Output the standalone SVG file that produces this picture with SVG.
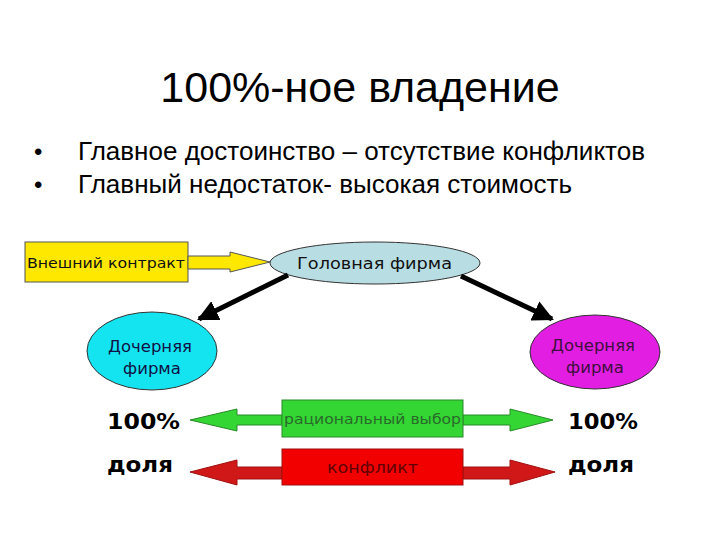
<svg xmlns="http://www.w3.org/2000/svg" width="720" height="540" viewBox="0 0 720 540">
<style>
.t{font-family:"Liberation Sans",Arial,sans-serif;fill:#000}
.d{font-family:"DejaVu Sans","Liberation Sans",sans-serif}
.bd{font-family:"DejaVu Sans","Liberation Sans",sans-serif;font-weight:bold;font-size:21px;fill:#000}
.conn{stroke:#000;stroke-width:5;fill:none}
</style>
<defs>
<marker id="ah" viewBox="0 0 10 10" refX="9" refY="5" markerWidth="4.2" markerHeight="4.2" orient="auto" markerUnits="strokeWidth">
<path d="M0,0 L10,5 L0,10 z" fill="#000"/>
</marker>
</defs>
<rect width="720" height="540" fill="#fff"/>
<text class="t" x="360" y="102" font-size="43" text-anchor="middle">100%-ное владение</text>
<text class="t" x="34" y="160" font-size="24">•</text>
<text class="t" x="78" y="160" font-size="25" textLength="567" lengthAdjust="spacingAndGlyphs">Главное достоинство – отсутствие конфликтов</text>
<text class="t" x="34" y="193" font-size="24">•</text>
<text class="t" x="78" y="193" font-size="25" textLength="494" lengthAdjust="spacingAndGlyphs">Главный недостаток- высокая стоимость</text>

<g id="external">
<rect x="25" y="242" width="163" height="40" fill="#ffe800" stroke="#555" stroke-width="1"/>
<path d="M188,256 L230,256 L230,252 L270,262 L230,272 L230,269 L188,269 z" fill="#ffe800" stroke="#555" stroke-width="1"/>
<text class="d" x="27" y="268" font-size="14.5" textLength="158" lengthAdjust="spacingAndGlyphs" fill="#111">Внешний контракт</text>
</g>
<g id="head">
<ellipse cx="375" cy="263" rx="105" ry="21" fill="#b8dde3" stroke="#333" stroke-width="1"/>
<text class="d" x="297" y="269" font-size="16.5" textLength="155" lengthAdjust="spacingAndGlyphs" fill="#111">Головная фирма</text>
</g>
<g id="connectors">
<line class="conn" x1="288" y1="275" x2="199" y2="319" marker-end="url(#ah)"/>
<line class="conn" x1="461" y1="276" x2="552" y2="319" marker-end="url(#ah)"/>
</g>
<g id="sub-left">
<ellipse cx="152" cy="351" rx="65" ry="39" fill="#14e4f0" stroke="#333" stroke-width="1"/>
<text class="d" x="150" y="352" font-size="16.5" text-anchor="middle" fill="#114">Дочерняя</text>
<text class="d" x="152" y="374" font-size="16.5" text-anchor="middle" fill="#114">фирма</text>
</g>
<g id="sub-right">
<ellipse cx="595" cy="352" rx="65" ry="37" fill="#e21ee2" stroke="#333" stroke-width="1"/>
<text class="d" x="593" y="351" font-size="16.5" text-anchor="middle" fill="#401040">Дочерняя</text>
<text class="d" x="595" y="373" font-size="16.5" text-anchor="middle" fill="#401040">фирма</text>
</g>
<g id="labels">
<text class="bd" x="107" y="429" textLength="73" lengthAdjust="spacingAndGlyphs">100%</text>
<text class="bd" x="568" y="429" textLength="70" lengthAdjust="spacingAndGlyphs">100%</text>
<text class="bd" x="107" y="472" textLength="66" lengthAdjust="spacingAndGlyphs">доля</text>
<text class="bd" x="568" y="472" textLength="66" lengthAdjust="spacingAndGlyphs">доля</text>
</g>
<g id="rational">
<path d="M282,415 L237,415 L237,409 L190,420 L237,431 L237,425 L282,425 z" fill="#33d633" stroke="#2a8a2a" stroke-width="1"/>
<path d="M463,415 L510,415 L510,409 L553,420 L510,431 L510,425 L463,425 z" fill="#33d633" stroke="#2a8a2a" stroke-width="1"/>
<rect x="282" y="400" width="181" height="37" fill="#33d633" stroke="#2a8a2a" stroke-width="1"/>
<text class="d" x="284" y="424" font-size="14.5" textLength="177" lengthAdjust="spacingAndGlyphs" fill="#2a6a2a">рациональный выбор</text>
</g>
<g id="conflict">
<path d="M282,467 L237,467 L237,460 L190,472 L237,485 L237,479 L282,479 z" fill="#d01818" stroke="#a01010" stroke-width="1"/>
<path d="M463,467 L510,467 L510,460 L555,472 L510,485 L510,479 L463,479 z" fill="#d01818" stroke="#a01010" stroke-width="1"/>
<rect x="282" y="449" width="181" height="36" fill="#f20000" stroke="#a01010" stroke-width="1"/>
<text class="d" x="327" y="473" font-size="15" textLength="91" lengthAdjust="spacingAndGlyphs" fill="#600000">конфликт</text>
</g>
</svg>
